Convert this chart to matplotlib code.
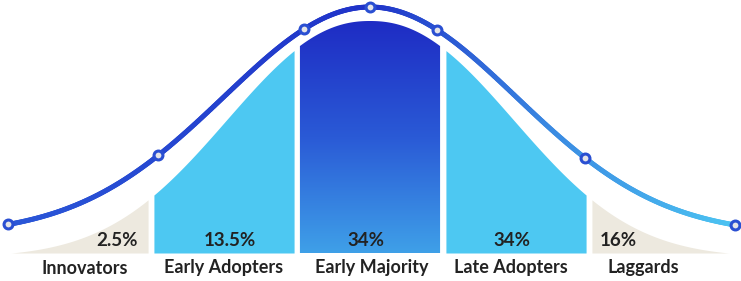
import numpy as np
import matplotlib.pyplot as plt
from matplotlib.collections import LineCollection
from matplotlib.colors import LinearSegmentedColormap
from matplotlib.patches import Polygon

plt.rcParams["font.family"] = ["Lato", "DejaVu Sans"]

# adoption groups (x in standard deviations, each group one unit wide)
segments = ["Innovators", "Early Adopters", "Early Majority", "Late Adopters", "Laggards"]
shares = ["2.5%", "13.5%", "34%", "34%", "16%"]
edges = [-2.5, -1.5, -0.5, 0.5, 1.5, 2.5]
marker_sd = [-2.48, -1.45, -0.45, 0.0, 0.46, 1.47, 2.5]

# bell shapes (outer line and inner filled area), heights in px above baseline
LINE_BASE, LINE_AMP, LINE_SD = 18, 228, 1.0
FILL_BASE, FILL_AMP, FILL_W, FILL_P = -4, 236, 1.297, 2.2


def line_h(u):
    u = np.asarray(u, dtype=float)
    return LINE_BASE + LINE_AMP * np.exp(-u**2 / (2 * LINE_SD**2))


def fill_h(u):
    u = np.asarray(u, dtype=float)
    h = FILL_BASE + FILL_AMP * np.exp(-(np.abs(u) / FILL_W) ** FILL_P)
    return np.clip(h, 0, None)


fill_colors = ["#EDE9DF", "#4DC8F2", None, "#4DC8F2", "#EDE9DF"]
majority_cmap = LinearSegmentedColormap.from_list(
    "maj", [(0, "#3FA0E8"), (0.5, "#2A5AD6"), (1, "#1E2CC4")])
line_cmap = LinearSegmentedColormap.from_list(
    "line", [(0, "#2B58D8"), (0.5, "#1F32C8"), (0.75, "#3A8AE2"), (1, "#4CC4F2")])

fig = plt.figure(figsize=(7.41, 2.81), dpi=100)
ax = fig.add_axes([0, 0, 1, 1])
ax.set_xlim(-370 / 146, 371 / 146)
ax.set_ylim(-28, 253)
ax.axis("off")

gap = 0.02
for i, (lo, hi) in enumerate(zip(edges[:-1], edges[1:])):
    xs = np.linspace(lo + gap, hi - gap, 200)
    ys = fill_h(xs)
    if fill_colors[i] is not None:
        ax.fill_between(xs, 0, ys, color=fill_colors[i], lw=0, zorder=1)
    else:
        verts = np.column_stack([np.r_[xs, xs[::-1]], np.r_[ys, np.zeros_like(ys)]])
        clip = Polygon(verts, closed=True, facecolor="none", edgecolor="none")
        ax.add_patch(clip)
        grad = np.linspace(0, 1, 256).reshape(-1, 1)
        im = ax.imshow(grad, cmap=majority_cmap, aspect="auto", origin="lower",
                       extent=[lo, hi, 0, ys.max()], zorder=1)
        im.set_clip_path(clip)

# gradient bell line
u = np.linspace(edges[0] + 0.02, edges[-1], 500)
pts = np.column_stack([u, line_h(u)]).reshape(-1, 1, 2)
segs = np.concatenate([pts[:-1], pts[1:]], axis=1)
lc = LineCollection(segs, cmap=line_cmap, linewidths=3.6, capstyle="round", zorder=3)
lc.set_array((u[:-1] - edges[0]) / (edges[-1] - edges[0]))
lc.set_clim(0, 1)
ax.add_collection(lc)

ax.plot(marker_sd, line_h(marker_sd), "o", ms=6.4, mfc="#E4E4E8", mec="#2A4FD2",
        mew=2.2, zorder=4)

# labels
share_pos = [(-1.589, "right"), (-0.959, "center"), (-0.027, "center"),
             (0.973, "center"), (1.575, "left")]
name_pos = [-1.952, -1.0, 0.014, 0.966, 1.87]
for share, (x, ha) in zip(shares, share_pos):
    ax.text(x, 13, share, ha=ha, va="center", fontsize=13.5, fontweight="bold",
            color="#222222", zorder=5)
for name, x in zip(segments, name_pos):
    ax.text(x, -15, name, ha="center", va="center", fontsize=13, fontweight="bold",
            color="#222222", zorder=5)

fig.savefig("out.png", dpi=100)
